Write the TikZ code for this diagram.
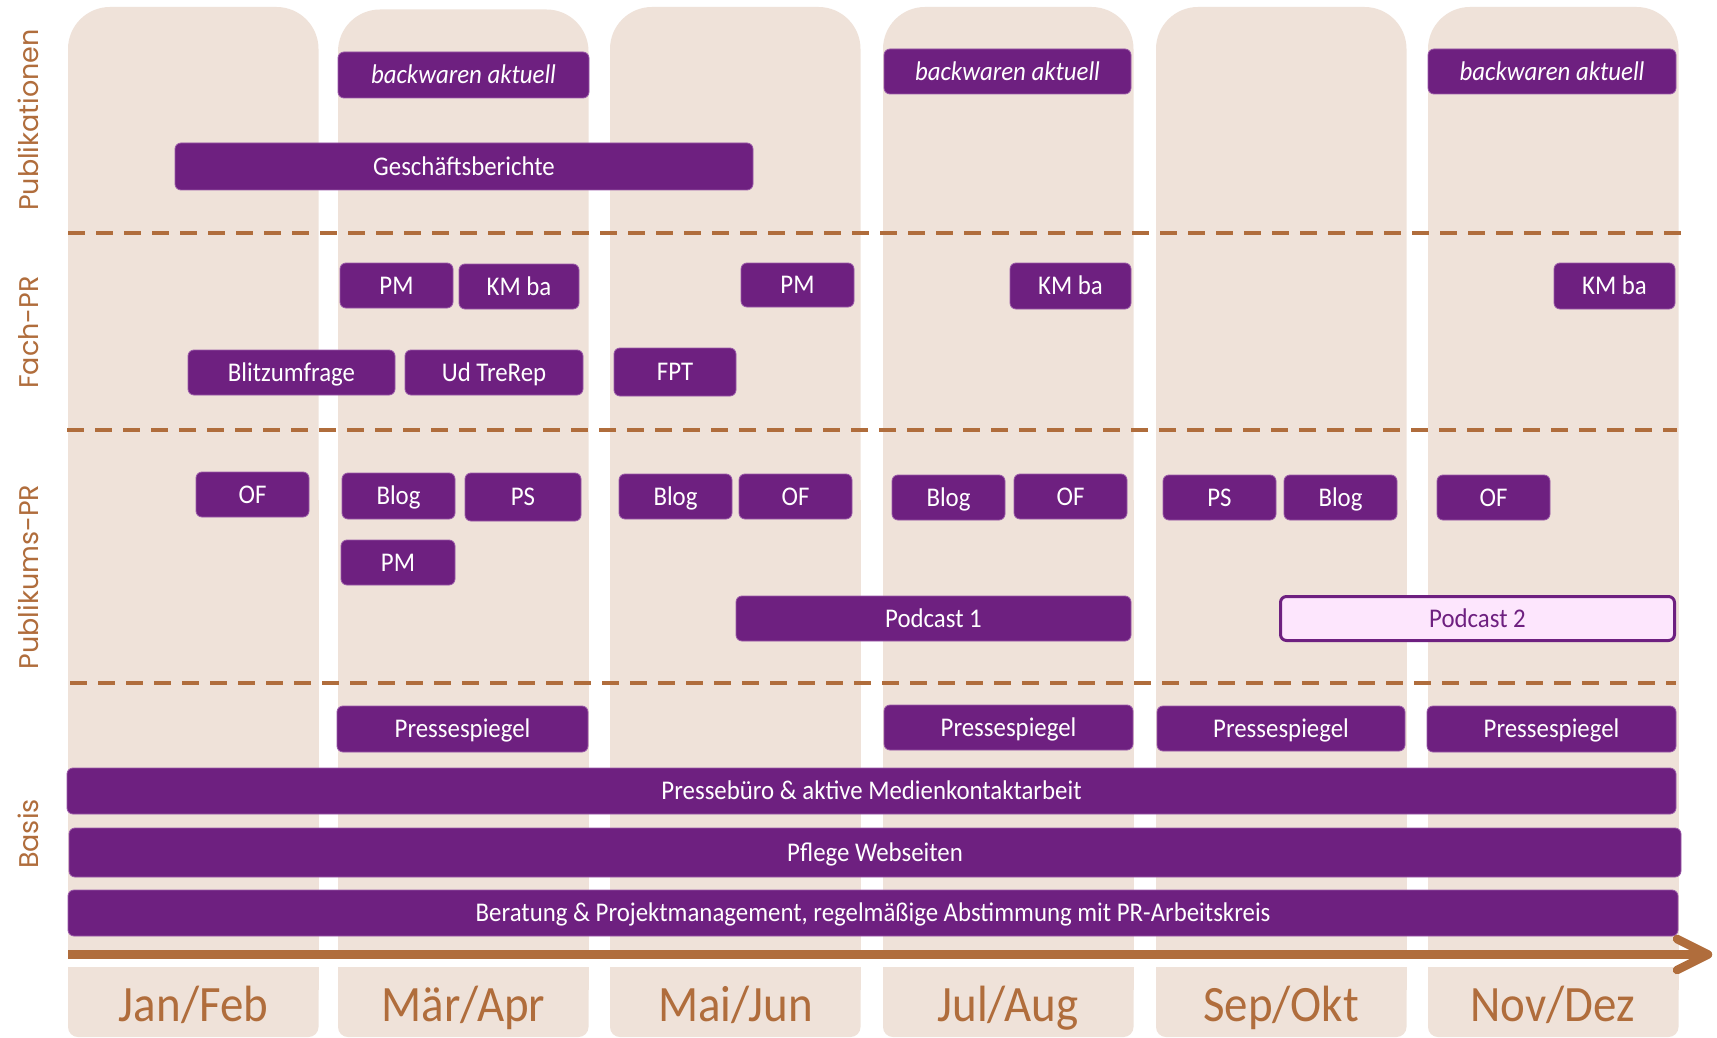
\documentclass[tikz,border=0pt]{standalone}
\usepackage{fontspec}
\setmainfont{Carlito}[FakeStretch=0.92]
\newfontfamily\sidefont{Poppins}
\usetikzlibrary{calc}
\definecolor{pur}{HTML}{6E2080}
\definecolor{colbg}{HTML}{EFE2D9}
\definecolor{brn}{HTML}{B06D3C}
\definecolor{podbg}{HTML}{FDE6FD}
\definecolor{pborder}{HTML}{9A5AA8}
\tikzset{
  box/.style={fill=pur, draw=pborder, line width=0.8pt, rounded corners=6pt, text=white,
    inner sep=0pt, font=\fontsize{27}{30}\selectfont, text height=17.4pt, text depth=0pt, anchor=center},
  openbox/.style={box, fill=podbg, draw=pur, line width=3pt, text=pur},
  sep/.style={draw=brn, line width=4pt, dash pattern=on 17pt off 11pt},
  monthlbl/.style={text=brn, font=\fontsize{51}{56}\selectfont, inner sep=0pt, text height=33pt, text depth=0pt, anchor=center},
  sidelbl/.style={text=brn, font=\sidefont\fontsize{27}{30}\selectfont, rotate=90, anchor=base, inner sep=0pt},
  timeline/.style={draw=brn, line width=8.5pt},
}
\begin{document}
\begin{tikzpicture}[x=1pt,y=-1pt]
\useasboundingbox (0,0) rectangle (1717,1038);
\fill[white] (0,0) rectangle (1717,1038);
% columns
\foreach \L/\T in {68/7, 338/9.5, 610/7, 883/7, 1156/7, 1428/7}{
  \fill[colbg, rounded corners=42pt] (\L,\T) rectangle (\L+250.5,952);
  \fill[colbg] (\L,500) rectangle (\L+250.5,952);
  \fill[colbg, rounded corners=10pt] (\L,967) rectangle (\L+250.5,1037);
  \fill[colbg] (\L,967) rectangle (\L+250.5,990);
}
% month labels
\node[monthlbl] (m1) at (193.5,1005) {Jan/Feb};
\node[monthlbl] (m2) at (463.5,1005) {Mär/Apr};
\node[monthlbl] (m3) at (735.5,1005) {Mai/Jun};
\node[monthlbl] (m4) at (1008,1005) {Jul/Aug};
\node[monthlbl] (m5) at (1281,1005) {Sep/Okt};
\node[monthlbl] (m6) at (1552.5,1005) {Nov/Dez};
% separators
\coordinate (s1a) at (68,233); \coordinate (s1b) at (1682,233);
\coordinate (s2a) at (67,430); \coordinate (s2b) at (1677,430);
\coordinate (s3a) at (70,683); \coordinate (s3b) at (1676,683);
\draw[sep] (s1a) -- (s1b);
\draw[sep] (s2a) -- (s2b);
\draw[sep] (s3a) -- (s3b);
% side labels
\node[sidelbl] (lpub) at (38,120) {Publikationen};
\node[sidelbl] (lfach) at (38,332.5) {Fach-PR};
\node[sidelbl] (lpubl) at (38,577) {Publikums-PR};
\node[sidelbl] (lbasis) at (38,834) {Basis};
% Publikationen
\node[box, minimum width=251pt, minimum height=46pt] (ba1) at (463.5,75) {\itshape backwaren aktuell};
\node[box, minimum width=247pt, minimum height=45pt] (ba2) at (1007.5,71.5) {\itshape backwaren aktuell};
\node[box, minimum width=248pt, minimum height=45pt] (ba3) at (1552,71.5) {\itshape backwaren aktuell};
\node[box, minimum width=578pt, minimum height=47pt] (gb) at (464,166.5) {Geschäftsberichte};
% Fach-PR
\node[box, minimum width=113pt, minimum height=45pt] (pm1) at (396.5,285.5) {PM};
\node[box, minimum width=120pt, minimum height=45pt] (kmba1) at (519,286.5) {KM ba};
\node[box, minimum width=113pt, minimum height=44pt] (pm2) at (797.5,285) {PM};
\node[box, minimum width=121pt, minimum height=46pt] (kmba2) at (1070.5,286) {KM ba};
\node[box, minimum width=121pt, minimum height=46pt] (kmba3) at (1614.5,286) {KM ba};
\node[box, minimum width=207pt, minimum height=45pt] (blitz) at (291.5,372.5) {Blitzumfrage};
\node[box, minimum width=178pt, minimum height=45pt] (udtr) at (494,372.5) {Ud TreRep};
\node[box, minimum width=122pt, minimum height=48pt] (fpt) at (675,372) {FPT};
% Publikums-PR
\node[box, minimum width=113pt, minimum height=45pt] (of1) at (252.5,494.5) {OF};
\node[box, minimum width=113pt, minimum height=46pt] (blog1) at (398.5,496) {Blog};
\node[box, minimum width=116pt, minimum height=48pt] (ps1) at (523,497) {PS};
\node[box, minimum width=113pt, minimum height=45pt] (blog2) at (675.5,496.5) {Blog};
\node[box, minimum width=113pt, minimum height=45pt] (of2) at (795.5,496.5) {OF};
\node[box, minimum width=113pt, minimum height=45pt] (blog3) at (948.5,497.5) {Blog};
\node[box, minimum width=113pt, minimum height=45pt] (of3) at (1070.5,496.5) {OF};
\node[box, minimum width=113pt, minimum height=45pt] (ps2) at (1219.5,497.5) {PS};
\node[box, minimum width=113pt, minimum height=45pt] (blog4) at (1340.5,497.5) {Blog};
\node[box, minimum width=113pt, minimum height=45pt] (of4) at (1493.5,497.5) {OF};
\node[box, minimum width=114pt, minimum height=45pt] (pm3) at (398,562.5) {PM};
\node[box, minimum width=395pt, minimum height=45pt] (pod1) at (933.5,618.5) {Podcast 1};
\node[openbox, minimum width=394pt, minimum height=44pt] (pod2) at (1477.5,618.5) {Podcast 2};
% Basis
\node[box, minimum width=251pt, minimum height=46pt] (psp1) at (462.5,729) {Pressespiegel};
\node[box, minimum width=249pt, minimum height=45pt] (psp2) at (1008.5,727.5) {Pressespiegel};
\node[box, minimum width=248pt, minimum height=45pt] (psp3) at (1281,728.5) {Pressespiegel};
\node[box, minimum width=249pt, minimum height=46pt] (psp4) at (1551.5,729) {Pressespiegel};
\node[box, minimum width=1609pt, minimum height=46pt] (presse) at (871.5,791) {Pressebüro \& aktive Medienkontaktarbeit};
\node[box, minimum width=1612pt, minimum height=49pt] (pflege) at (875,852.5) {Pflege Webseiten};
\node[box, minimum width=1610pt, minimum height=46pt] (berat) at (873,913) {Beratung \& Projektmanagement, regelmäßige Abstimmung mit PR-Arbeitskreis};
% timeline arrow
\coordinate (tstart) at (68,954.5);
\coordinate (ttip) at (1708,954.5);
\draw[timeline] (tstart) -- ($(ttip)+(-4,0)$);
\draw[timeline, line cap=round, line join=round] ($(ttip)+(-31,-15.5)$) -- (ttip) -- ($(ttip)+(-31,15.5)$);
\end{tikzpicture}
\end{document}
